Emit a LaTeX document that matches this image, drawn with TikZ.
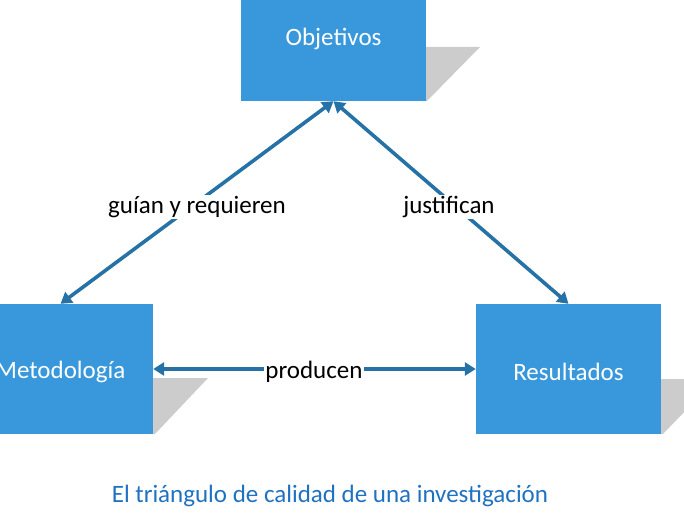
\documentclass[tikz,border=0pt]{standalone}
\usepackage{fontspec}
\setmainfont{Carlito}
\usetikzlibrary{arrows.meta}
\definecolor{boxblue}{HTML}{3898DB}
\definecolor{arrowblue}{HTML}{2672A6}
\definecolor{capblue}{HTML}{1F72C0}
\definecolor{shadowgray}{HTML}{CCCCCC}
\begin{document}
\begin{tikzpicture}[x=1pt,y=-1pt,
  box/.style={draw=none,fill=boxblue,inner sep=0pt,minimum width=185pt,minimum height=130pt},
  boxtext/.style={text=white,font=\fontsize{25}{30}\selectfont,inner sep=0pt},
  conn/.style={draw=arrowblue,line width=3.6pt,{Triangle[length=11pt,width=13pt]}-{Triangle[length=11pt,width=13pt]}},
  lbl/.style={fill=white,text=black,font=\fontsize{25}{30}\selectfont,inner sep=1pt}]
\useasboundingbox (0,0) rectangle (684,524);
% shadows
\fill[shadowgray] (425,47) -- (480,47) -- (427,101) -- (425,101) -- cycle;
\fill[shadowgray] (153,378) -- (208,378) -- (155,434) -- (153,434) -- cycle;
\fill[shadowgray] (661,379) -- (716,379) -- (663,434) -- (661,434) -- cycle;
% boxes
\node[box] (obj) at (333.5,36) {};
\node[box] (met) at (60.5,369) {};
\node[box] (res) at (568.5,369) {};
\node[boxtext] (objt) at (333.5,39) {Objetivos};
\node[boxtext] (mett) at (60.5,372) {Metodología};
\node[boxtext] (rest) at (568.5,372) {Resultados};
% connectors
\draw[conn] (obj.south) -- (met.north);
\draw[conn] (obj.south) -- (res.north);
\draw[conn] (met.east) -- (res.west);
% labels
\node[lbl] (l1) at (197,207) {guían y requieren};
\node[lbl] (l2) at (449,207) {justifican};
\node[lbl] (l3) at (314,372) {producen};
% caption
\node[text=capblue,font=\fontsize{25}{30}\selectfont] (cap) at (330,496) {El triángulo de calidad de una investigación};
\end{tikzpicture}
\end{document}
